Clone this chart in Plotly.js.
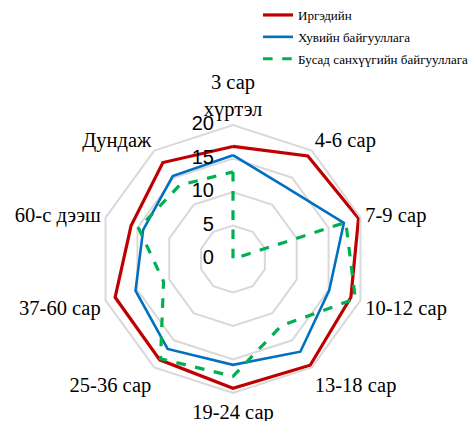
<!DOCTYPE html>
<html>
<head>
<meta charset="utf-8">
<script src="https://cdn.plot.ly/plotly-3.0.1.min.js"></script>
<style>html,body{margin:0;padding:0;background:#fff;}#chart{width:473px;height:421px;}</style>
</head>
<body>
<div id="chart"></div>
<script>
const categories = ["3 сар<br>хүртэл", "4-6 сар", "7-9 сар", "10-12 сар", "13-18 сар", "19-24 сар", "25-36 сар", "37-60 сар", "60-с дээш", "Дундаж"];
const seriesNames = ["Иргэдийн", "Хувийн байгууллага", "Бусад санхүүгийн байгууллага"];
const irgediin = [16.8, 19.0, 19.7, 18.5, 19.6, 19.3, 18.6, 18.5, 16.0, 17.8];
const khuviin = [15.5, 13.3, 17.4, 15.1, 17.1, 15.8, 16.6, 15.3, 14.1, 15.3];
const busad = [13.0, 0, 17.7, 19.2, 12.3, 17.5, 18.4, 10.9, 14.8, 13.6];
const radialTicks = [0, 5, 10, 15, 20];

function closed(a) { return a.concat([a[0]]); }

const traces = [
  {name: seriesNames[0], values: irgediin, color: "#c00000", width: 3.2, dash: "solid"},
  {name: seriesNames[1], values: khuviin, color: "#0070c0", width: 2.6, dash: "solid"},
  {name: seriesNames[2], values: busad, color: "#00b050", width: 3.2, dash: "dash"}
].map((s, i) => ({
  type: "scatterpolar",
  mode: "lines",
  name: s.name,
  legendgroup: "g" + i,
  r: closed(s.values),
  theta: closed(categories),
  line: {color: s.color, width: s.width, dash: s.dash},
  hoverinfo: "skip"
}));

// radial tick labels, placed on the radial scale along the first category direction
// (the zero tick is nudged off the exact origin so Plotly does not treat it as outside the polygon)
traces.push({
  type: "scatterpolar",
  mode: "markers+text",
  r: radialTicks.map(v => Math.max(v, 0.05)),
  theta: radialTicks.map(() => categories[0]),
  text: radialTicks.map(String),
  textposition: "middle left",
  textfont: {family: "Liberation Sans", size: 20, color: "#000"},
  marker: {size: 29, color: "rgba(0,0,0,0)"},
  showlegend: false,
  hoverinfo: "skip",
  cliponaxis: false
});

const W = 473, H = 421, cx = 233, cy = 259, R = 134;

const layout = {
  width: W, height: H,
  margin: {l: 0, r: 0, t: 0, b: 0},
  paper_bgcolor: "#fff",
  plot_bgcolor: "#fff",
  showlegend: true,
  legend: {
    x: 1.0, y: 1.0, xanchor: "right", yanchor: "top",
    font: {family: "Liberation Serif", size: 13, color: "#000"},
    bgcolor: "rgba(0,0,0,0)",
    tracegroupgap: 2
  },
  polar: {
    domain: {x: [(cx - R) / W, (cx + R) / W], y: [(H - cy - R) / H, (H - cy + R) / H]},
    bgcolor: "#fff",
    gridshape: "linear",
    angularaxis: {
      type: "category",
      categoryarray: categories,
      direction: "clockwise",
      rotation: 90,
      showgrid: false,
      showline: true,
      linecolor: "#d9d9d9",
      linewidth: 2,
      ticks: "",
      tickfont: {family: "Liberation Serif", size: 20.5, color: "#000"}
    },
    radialaxis: {
      range: [0, 20],
      tickvals: radialTicks,
      angle: 90,
      showticklabels: false,
      showline: false,
      ticks: "",
      showgrid: true,
      gridcolor: "#d9d9d9",
      gridwidth: 2
    }
  }
};

Plotly.newPlot("chart", traces, layout, {staticPlot: true, displayModeBar: false});
</script>
</body>
</html>
